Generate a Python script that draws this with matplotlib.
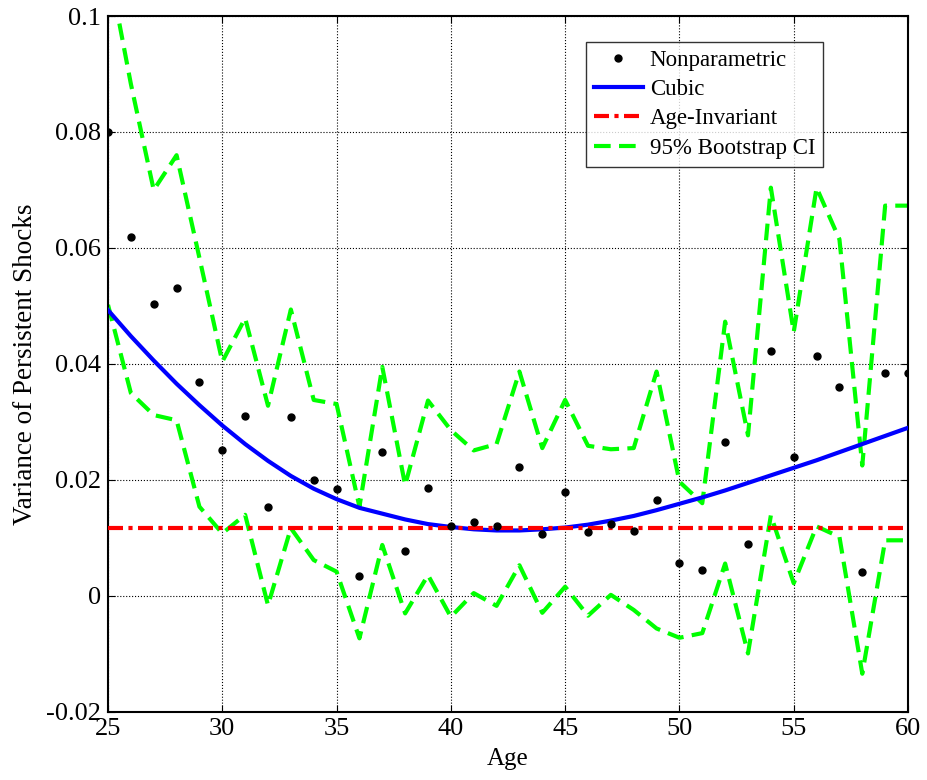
import matplotlib
matplotlib.use("Agg")
import matplotlib.pyplot as plt
import numpy as np

ages = list(range(25, 61))

nonparametric = [0.0800, 0.0619, 0.0503, 0.0531, 0.0369, 0.0251, 0.0310, 0.0154,
                 0.0309, 0.0200, 0.0185, 0.0034, 0.0249, 0.0078, 0.0187, 0.0121,
                 0.0128, 0.0121, 0.0222, 0.0107, 0.0180, 0.0110, 0.0124, 0.0112,
                 0.0165, 0.0057, 0.0045, 0.0265, 0.0089, 0.0422, 0.0240, 0.0413,
                 0.0360, 0.0041, 0.0384, 0.0384]

cubic = [0.0493, 0.0448, 0.0406, 0.0366, 0.0329, 0.0294, 0.0262, 0.0233,
         0.0207, 0.0185, 0.0167, 0.0152, 0.0142, 0.0132, 0.0124, 0.0119,
         0.0115, 0.0113, 0.0113, 0.0115, 0.0118, 0.0123, 0.0130, 0.0138,
         0.0148, 0.0159, 0.0170, 0.0182, 0.0195, 0.0208, 0.0221, 0.0234,
         0.0248, 0.0262, 0.0276, 0.0290]

age_invariant = 0.0117

ci_upper = [0.1090, 0.0883, 0.0700, 0.0760, 0.0583, 0.0404, 0.0479, 0.0328,
            0.0494, 0.0338, 0.0331, 0.0154, 0.0395, 0.0191, 0.0337, 0.0286,
            0.0251, 0.0262, 0.0387, 0.0255, 0.0338, 0.0259, 0.0253, 0.0255,
            0.0387, 0.0197, 0.0160, 0.0473, 0.0277, 0.0704, 0.0455, 0.0704,
            0.0615, 0.0225, 0.0673, 0.0673]

ci_lower = [0.0502, 0.0350, 0.0312, 0.0303, 0.0154, 0.0108, 0.0140, -0.0016,
            0.0117, 0.0062, 0.0042, -0.0073, 0.0088, -0.0030, 0.0036, -0.0036,
            0.0005, -0.0017, 0.0053, -0.0029, 0.0016, -0.0034, 0.0002, -0.0024,
            -0.0056, -0.0072, -0.0064, 0.0056, -0.0099, 0.0139, 0.0022, 0.0120,
            0.0102, -0.0134, 0.0096, 0.0096]

x_ticks = [25, 30, 35, 40, 45, 50, 55, 60]
y_ticks = [-0.02, 0, 0.02, 0.04, 0.06, 0.08, 0.1]
y_tick_labels = ["-0.02", "0", "0.02", "0.04", "0.06", "0.08", "0.1"]

plt.rcParams['font.family'] = ['Liberation Serif', 'DejaVu Serif']

fig = plt.figure(figsize=(9.27, 7.80), dpi=100)
ax = fig.add_axes([108/927, 1-712/780, 800/927, 696/780])

ax.plot(ages, nonparametric, linestyle='none', marker='o', color='black',
        markersize=5, label='Nonparametric', zorder=5)
ax.plot(ages, cubic, color='#0000ff', linewidth=3, label='Cubic', zorder=3)
ax.plot([ages[0], ages[-1]], [age_invariant, age_invariant], color='#ff0000',
        linewidth=3, linestyle=(0, (3.6, 1.3, 1.0, 1.3)), label='Age-Invariant', zorder=4)
ax.plot(ages, ci_upper, color='#00ff00', linewidth=3, linestyle=(0, (4, 2)),
        label='95% Bootstrap CI', zorder=2)
ax.plot(ages, ci_lower, color='#00ff00', linewidth=3, linestyle=(0, (4, 2)), zorder=2)

ax.set_xlim(25, 60)
ax.set_ylim(-0.02, 0.1)
ax.set_xticks(x_ticks)
ax.set_xticklabels([str(t) for t in x_ticks])
ax.set_yticks(y_ticks)
ax.set_yticklabels(y_tick_labels)
ax.tick_params(direction='in', length=5, width=0.8, top=True, right=True,
               labelsize=19)
ax.tick_params(axis='y', pad=5)
ax.tick_params(axis='x', pad=4)
ax.grid(True, color='black', linestyle=':', linewidth=0.8)
for s in ax.spines.values():
    s.set_linewidth(1.5)

ax.set_xlabel('Age', fontsize=18, labelpad=6)
ax.set_ylabel('Variance of Persistent Shocks', fontsize=19.5, labelpad=6)

leg = ax.legend(loc='upper right', bbox_to_anchor=(0.894, 0.963), borderaxespad=0,
                fontsize=16.5, frameon=True, fancybox=False, edgecolor='black',
                handlelength=2.15, handletextpad=0.3, borderpad=0.35,
                labelspacing=0.36)
leg.get_frame().set_linewidth(1.0)

fig.savefig('out.png', dpi=100)
